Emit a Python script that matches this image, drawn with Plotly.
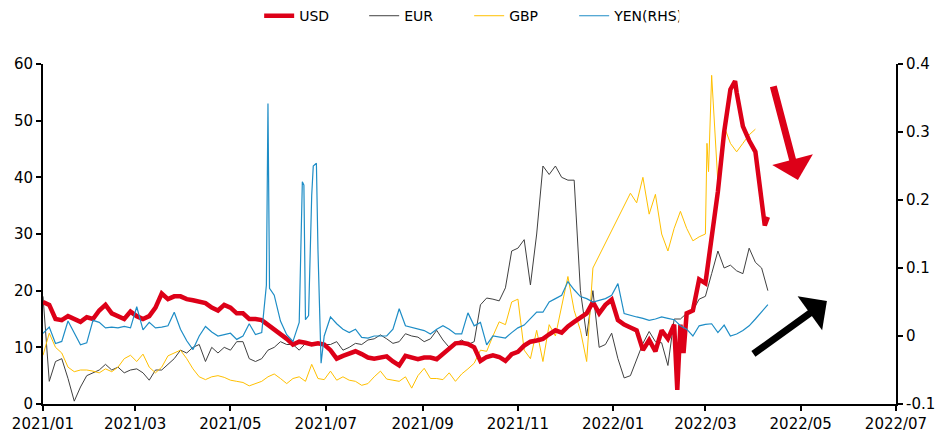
import pandas as pd
import plotly.graph_objects as go

# ---- data (one value every 4 days from 2021-01-01) ----
dates = pd.date_range("2021-01-01", periods=117, freq="4D")

usd = [18, 17.5, 15, 14.8, 15.5, 15, 14.5, 15.3, 15, 16.5,
       17.5, 16, 15.5, 15, 16.3, 15.5, 15, 15.5, 17, 19.5,
       18.5, 19, 19, 18.5, 18.3, 18, 17.8, 17, 16.5, 17.5,
       17, 16, 16, 15, 15, 14.8, 14, 13, 12.2, 11.5,
       10.5, 11, 10.8, 10.5, 10.7, 10.5, 9.5, 8, 8.5, 9,
       9.3, 8.8, 8.2, 8, 8.3, 8.4, 7.5, 6.8, 8.5, 8.2,
       7.9, 8.2, 8.2, 7.9, 8.8, 9.8, 10.7, 10.8, 10.6, 10,
       7.6, 8.3, 8.6, 8.3, 7.6, 8.8, 9.2, 10.3, 11, 11.2,
       11.5, 12.3, 13, 12.6, 13.7, 14.5, 15.2, 16, 18, 16,
       17.5, 18.4, 14.8, 14, 13.5, 13, 9.5, 11.3, 9.3, 13,
       11.5, 14, 14, 16, 16.5, 22, 21.3, 30, 37.5, 48,
       55.5, 55, 49, 46.5, 44.5, 36, 33]

eur = [19, 4, 7.5, 8, 4.5, 0.5, 3, 5, 5.5, 6,
       7, 6, 6.5, 5.5, 6, 6.2, 5.5, 4.2, 6, 6,
       7, 8, 9.5, 9, 10, 10.5, 7.5, 10, 9, 10,
       9.5, 11, 11, 8, 7.5, 8, 9.5, 10, 11, 10.5,
       10.5, 9.5, 10.7, 10.3, 10.5, 10.5, 10.5, 11, 9.5, 10,
       10.7, 10.5, 11.3, 11.5, 12.2, 11.5, 10.7, 11, 12.4, 12,
       11.8, 11, 11.5, 13, 11.3, 10, 10.7, 11.3, 10.5, 11,
       17.5, 18.7, 18.5, 18.2, 20.5, 27, 27.5, 29, 21, 30,
       42, 40.5, 42, 40, 39.5, 39.5, 20, 12, 20, 10,
       10.5, 12.5, 8, 4.6, 5, 7.8, 10.7, 12.8, 11, 10.8,
       6.8, 15, 15, 16, 16.5, 18.5, 19, 23, 27, 24,
       24.5, 23.5, 23, 27.5, 25, 24, 20]

gbp = [8.6, 12.5, 10, 9, 6.5, 5.7, 6, 6, 5.8, 5.5,
       6.2, 5.7, 6.5, 8, 8.6, 7.5, 8.8, 6.5, 5.5, 6.5,
       8.5, 9, 9.5, 8, 6.2, 4.8, 4.3, 4.8, 5, 4.7,
       4.2, 4, 3.8, 3.2, 3.6, 4, 4.8, 5.3, 4.5, 3.6,
       4.5, 4.8, 4, 7, 4.5, 4.3, 5.8, 4.2, 4.8, 4.2,
       4, 3.3, 3.6, 4.8, 5.8, 4.4, 4.2, 4, 4.8, 2.8,
       5, 6.3, 4.5, 4.5, 4.3, 5.5, 4, 5.3, 6.2, 7.2,
       9.5, 9.3, 12, 14.5, 14, 18, 18.5, 9.5, 8, 13,
       7.5, 14, 12, 17, 22.5, 16.5, 13, 7.5, 24, None,
       None, None, None, None, 37.2, 35.5, 40, 33.5, 37, 30,
       27, 31, 34, 31, 28.8, 29.5, 30, 58, 39, 49,
       46, 44.5, 46, 47.5, 48.5, None, None]

yen = [0.004, 0.013, -0.011, -0.008, 0.022, 0.005, -0.013, -0.01, 0.023, 0.02,
       0.012, 0.013, 0.012, 0.014, 0.012, 0.043, 0.009, 0.02, 0.012, 0.013,
       0.015, 0.035, 0.01, -0.007, -0.02, 0.0, 0.014, 0.006, 0.0, 0.002,
       0.004, -0.005, 0.0, 0.018, 0.002, 0.005, 0.342, 0.06, 0.022, 0.002,
       -0.008, 0.02, 0.024, 0.207, 0.127, 0.0, 0.028, 0.018, 0.01, 0.005,
       0.01, -0.002, -0.003, 0.0, 0.0, 0.0, 0.01, 0.04, 0.015, 0.013,
       0.01, 0.008, 0.003, 0.01, 0.015, 0.01, 0.003, 0.003, 0.034, 0.015,
       0.02, -0.013, 0.0, -0.002, -0.003, 0.005, 0.012, 0.016, 0.025, 0.035,
       0.035, 0.05, 0.055, 0.06, 0.08, 0.068, 0.058, 0.055, 0.05, 0.053,
       0.055, 0.06, 0.077, 0.033, 0.03, 0.028, 0.026, 0.023, 0.025, 0.028,
       0.026, 0.024, 0.015, 0.01, 0.0, 0.015, 0.017, 0.018, 0.005, 0.016,
       0.0, 0.003, 0.008, 0.015, 0.025, 0.036, 0.046]

# extra daily observations around narrow spikes
usd_extra_dates = ["2022-02-11", "2022-02-15", "2022-03-20", "2022-04-08"]
usd_extra = [2.5, 9, 57, 31.5]
gbp_extra_dates = ["2022-03-02", "2022-03-03"]
gbp_extra = [46, 41]
yen_extra_dates = ["2021-05-24", "2021-05-26", "2021-06-16", "2021-06-17",
                   "2021-06-20", "2021-06-23", "2021-06-25", "2021-06-28"]
yen_extra = [0.075, 0.07, 0.227, 0.222, 0.03, 0.25, 0.254, -0.04]

# right-axis tick labels
rhs_tickvals = [-0.1, 0.0, 0.1, 0.2, 0.3, 0.4]
rhs_ticktext = ["-0.1", "0", "0.1", "0.2", "0.3", "0.4"]

names = ["USD", "EUR", "GBP", "YEN(RHS)"]
colors = ["#DD0018", "#404040", "#FFC000", "#1E8DC6"]


def merge(vals, ex_dates=None, ex_vals=None):
    s = pd.Series(vals, index=dates, dtype=float)
    if ex_dates:
        e = pd.Series(ex_vals, index=pd.to_datetime(ex_dates), dtype=float)
        s = pd.concat([s, e]).sort_index()
    return s


s_usd = merge(usd, usd_extra_dates, usd_extra)
s_eur = merge(eur)
s_gbp = merge(gbp, gbp_extra_dates, gbp_extra)
s_yen = merge(yen, yen_extra_dates, yen_extra)

fig = go.Figure()
fig.add_trace(go.Scatter(x=s_eur.index, y=s_eur.values, name=names[1], mode="lines",
                         line=dict(color=colors[1], width=1), legendrank=2))
fig.add_trace(go.Scatter(x=s_gbp.index, y=s_gbp.values, name=names[2], mode="lines",
                         connectgaps=True,
                         line=dict(color=colors[2], width=1), legendrank=3))
fig.add_trace(go.Scatter(x=s_usd.index, y=s_usd.values, name=names[0], mode="lines",
                         line=dict(color=colors[0], width=4.5), legendrank=1))
fig.add_trace(go.Scatter(x=s_yen.index, y=s_yen.values, name=names[3], mode="lines",
                         yaxis="y2",
                         line=dict(color=colors[3], width=1.2), legendrank=4))

axis_common = dict(showline=True, linecolor="black", linewidth=2, ticks="outside",
                   ticklen=5, tickwidth=1.5, tickcolor="black", showgrid=False,
                   zeroline=False, automargin=False,
                   tickfont=dict(size=15, color="black"))

fig.update_layout(
    width=939, height=436,
    margin=dict(l=43, r=43, t=64, b=32, autoexpand=False),
    plot_bgcolor="white", paper_bgcolor="white",
    font=dict(family="DejaVu Sans", color="black"),
    xaxis=dict(type="date", range=["2021-01-01", "2022-07-01"], dtick="M2",
               tick0="2021-01-01", tickformat="%Y/%m", **axis_common),
    yaxis=dict(range=[0, 60], dtick=10, **axis_common),
    yaxis2=dict(range=[-0.1, 0.4], tickmode="array", tickvals=rhs_tickvals,
                ticktext=rhs_ticktext, overlaying="y", side="right",
                **axis_common),
    showlegend=True,
    legend=dict(orientation="h", xref="container", yref="container",
                x=0.276, xanchor="left", y=0.963, yanchor="middle",
                font=dict(size=14), entrywidth=60, bgcolor="rgba(0,0,0,0)"),
    annotations=[
        dict(xref="paper", yref="paper", x=0.885, y=0.659, ax=-25, ay=-95,
             text="", showarrow=True, arrowhead=1, arrowsize=1, arrowwidth=7,
             arrowcolor="#DD0018"),
        dict(xref="paper", yref="paper", x=0.919, y=0.303, ax=-75, ay=54,
             text="", showarrow=True, arrowhead=1, arrowsize=1, arrowwidth=7,
             arrowcolor="black"),
    ],
)

fig.write_html("out.html",
               config={"displayModeBar": False},
               post_script="document.body.style.margin='0';document.body.style.overflow='hidden';")
